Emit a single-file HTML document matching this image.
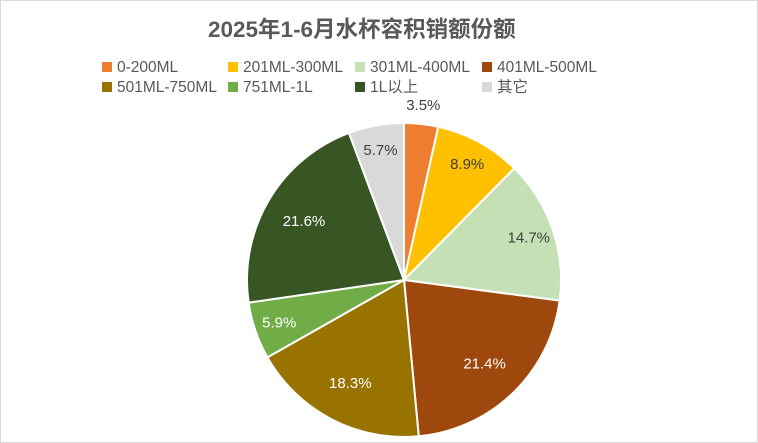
<!DOCTYPE html>
<html><head><meta charset="utf-8"><style>
body{margin:0;background:#fff;}
#c{position:relative;width:758px;height:443px;overflow:hidden;font-family:"Liberation Sans","Noto Sans CJK SC",sans-serif;}
.frame{position:absolute;left:0;top:0;width:756px;height:441px;border:1px solid #d9d9d9;}
.title{position:absolute;left:208px;top:12px;font-size:22.5px;font-weight:bold;color:#595959;white-space:nowrap;}
.leg{position:absolute;font-size:15.5px;color:#595959;white-space:nowrap;line-height:18px;}
.leg i{display:inline-block;width:10px;height:10px;margin-right:5px;vertical-align:0px;}
</style></head><body>
<div id="c">
<div class="frame"></div>
<div class="title">2025年1-6月水杯容积销额份额</div>
<div id="legend"></div>
<svg id="pie" width="758" height="443" style="position:absolute;left:0;top:0"></svg>
</div>
<script>
const categories=["0-200ML","201ML-300ML","301ML-400ML","401ML-500ML","501ML-750ML","751ML-1L","1L以上","其它"];
const values=[3.5,8.9,14.7,21.4,18.3,5.9,21.6,5.7];
const colors=["#ED7D31","#FFC000","#C5E0B4","#9E480E","#997300","#70AD47","#375623","#D9D9D9"];
const labelColors=["#404040","#404040","#404040","#ffffff","#ffffff","#ffffff","#ffffff","#404040"];
const ns="http://www.w3.org/2000/svg";
const svg=document.getElementById('pie');
const cx=404,cy=280,r=157;
const total=values.reduce((a,b)=>a+b,0);
let acc=0;
values.forEach((v,i)=>{
  const a0=acc/total*2*Math.PI, a1=(acc+v)/total*2*Math.PI; acc+=v;
  const x0=cx+r*Math.sin(a0),y0=cy-r*Math.cos(a0),x1=cx+r*Math.sin(a1),y1=cy-r*Math.cos(a1);
  const p=document.createElementNS(ns,'path');
  p.setAttribute('d',`M${cx},${cy}L${x0},${y0}A${r},${r} 0 ${a1-a0>Math.PI?1:0} 1 ${x1},${y1}Z`);
  p.setAttribute('fill',colors[i]);p.setAttribute('stroke','#fff');p.setAttribute('stroke-width','2');
  
  
  svg.appendChild(p);
  const am=(a0+a1)/2, f=v<5?1.12:(v>18?0.74:0.84);
  const t=document.createElementNS(ns,'text');
  t.setAttribute('x',cx+r*f*Math.sin(am));t.setAttribute('y',cy-r*f*Math.cos(am)+5);
  t.setAttribute('text-anchor','middle');t.setAttribute('font-size','15');
  t.setAttribute('fill',v<5?'#404040':labelColors[i]);
  t.setAttribute('font-family','Liberation Sans, sans-serif');
  t.textContent=v.toFixed(1)+'%';
  
  
  svg.appendChild(t);
});
const lg=document.getElementById('legend');
const lx=[102,228,355,482];
categories.forEach((c,i)=>{
  const d=document.createElement('div');d.className='leg';
  d.style.left=lx[i%4]+'px';d.style.top=(59+Math.floor(i/4)*20)+'px';
  d.innerHTML=`<i style="background:${colors[i]}"></i>${c}`;
  
  
  lg.appendChild(d);
});
</script>
</body></html>
